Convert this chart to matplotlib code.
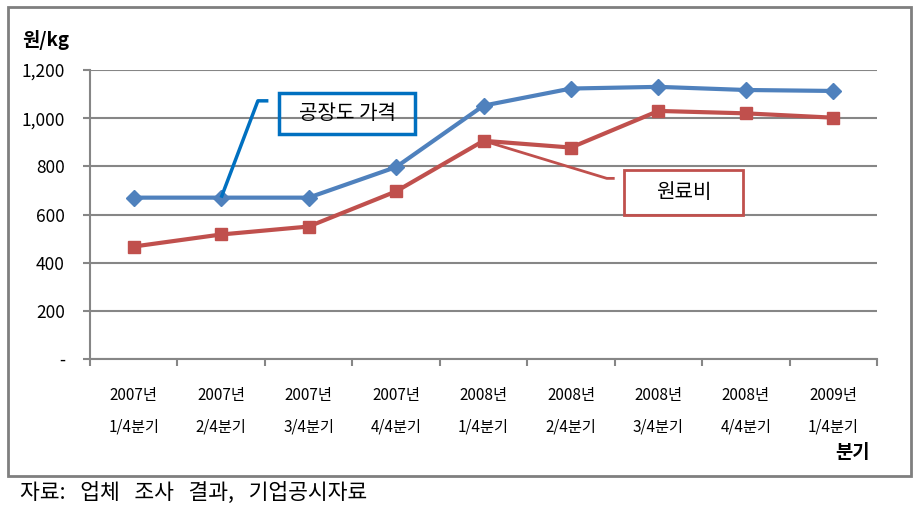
import numpy as np
import matplotlib.pyplot as plt
from matplotlib.patches import Rectangle

plt.rcParams['font.family'] = ['Noto Sans CJK KR', 'DejaVu Sans']

years = ['2007년', '2007년', '2007년', '2007년', '2008년', '2008년', '2008년', '2008년', '2009년']
quarters = ['1/4분기', '2/4분기', '3/4분기', '4/4분기', '1/4분기', '2/4분기', '3/4분기', '4/4분기', '1/4분기']
factory_price = [670, 670, 670, 797, 1052, 1123, 1130, 1117, 1113]
material_cost = [467, 517, 550, 696, 906, 878, 1030, 1020, 1002]
yticks = [0, 200, 400, 600, 800, 1000, 1200]
ytick_labels = ['-', '200', '400', '600', '800', '1,000', '1,200']

blue = '#4F81BD'
red = '#C0504D'
box_blue = '#0070C0'
grid_c = '#868686'

fig = plt.figure(figsize=(9.19, 5.08), dpi=100)
ax = fig.add_axes([90/919, 1-359/508, 787/919, 289/508])

x = np.arange(len(years))
ax.plot(x, factory_price, color=blue, lw=3, marker='D', ms=8, zorder=4)
ax.plot(x, material_cost, color=red, lw=3, marker='s', ms=9, zorder=4)

ax.set_xlim(-0.5, 8.5)
ax.set_ylim(0, 1200)
ax.set_yticks(yticks)
ax.set_yticklabels(ytick_labels, fontsize=12.5)
ax.yaxis.grid(True, color=grid_c, lw=1.5)
ax.set_axisbelow(True)
ax.set_xticks(x)
ax.set_xticklabels([y + '\n' + q for y, q in zip(years, quarters)], fontsize=11, linespacing=2.1)
ax.set_xticks(np.arange(-0.5, 9, 1), minor=True)
ax.tick_params(axis='x', which='major', length=0, pad=20)
ax.tick_params(axis='x', which='minor', length=5, color=grid_c, width=1.5)
ax.tick_params(axis='y', length=5, color=grid_c, width=1.5, pad=13)
for s in ['top', 'right']:
    ax.spines[s].set_visible(False)
for s in ['left', 'bottom']:
    ax.spines[s].set_color(grid_c)
    ax.spines[s].set_linewidth(1.5)

# callouts
ax.plot([1, 1.42, 1.54], [factory_price[1], 1072, 1072], color=box_blue, lw=2.5, zorder=5, solid_capstyle='butt')
ax.add_patch(Rectangle((1.66, 935), 1.56, 170, fill=False, ec=box_blue, lw=2.5, zorder=5))
ax.text(2.44, 1020, '공장도 가격', ha='center', va='center', fontsize=14.5, zorder=6)

ax.plot([4, 5.41, 5.5], [material_cost[4], 750, 750], color=red, lw=2, zorder=3, solid_capstyle='butt')
ax.add_patch(Rectangle((5.61, 600), 1.36, 183, fill=False, ec=red, lw=2, zorder=5))
ax.text(6.29, 690, '원료비', ha='center', va='center', fontsize=14.5, zorder=6)

fig.text(22/919, 1-40/508, '원/kg', fontsize=13.5, fontweight='bold', va='center')
fig.text(870/919, 1-452/508, '분기', fontsize=13.5, fontweight='bold', va='center', ha='right')

# outer frame and source
fig.patches.append(Rectangle((8/919, 1-476/508), 903/919, 469/508, transform=fig.transFigure,
                             fill=False, ec='#7F7F7F', lw=2))
fig.text(20/919, 1-493/508, '자료:   업체   조사   결과,   기업공시자료', fontsize=15.5, va='center')

fig.savefig('out.png', dpi=100)
